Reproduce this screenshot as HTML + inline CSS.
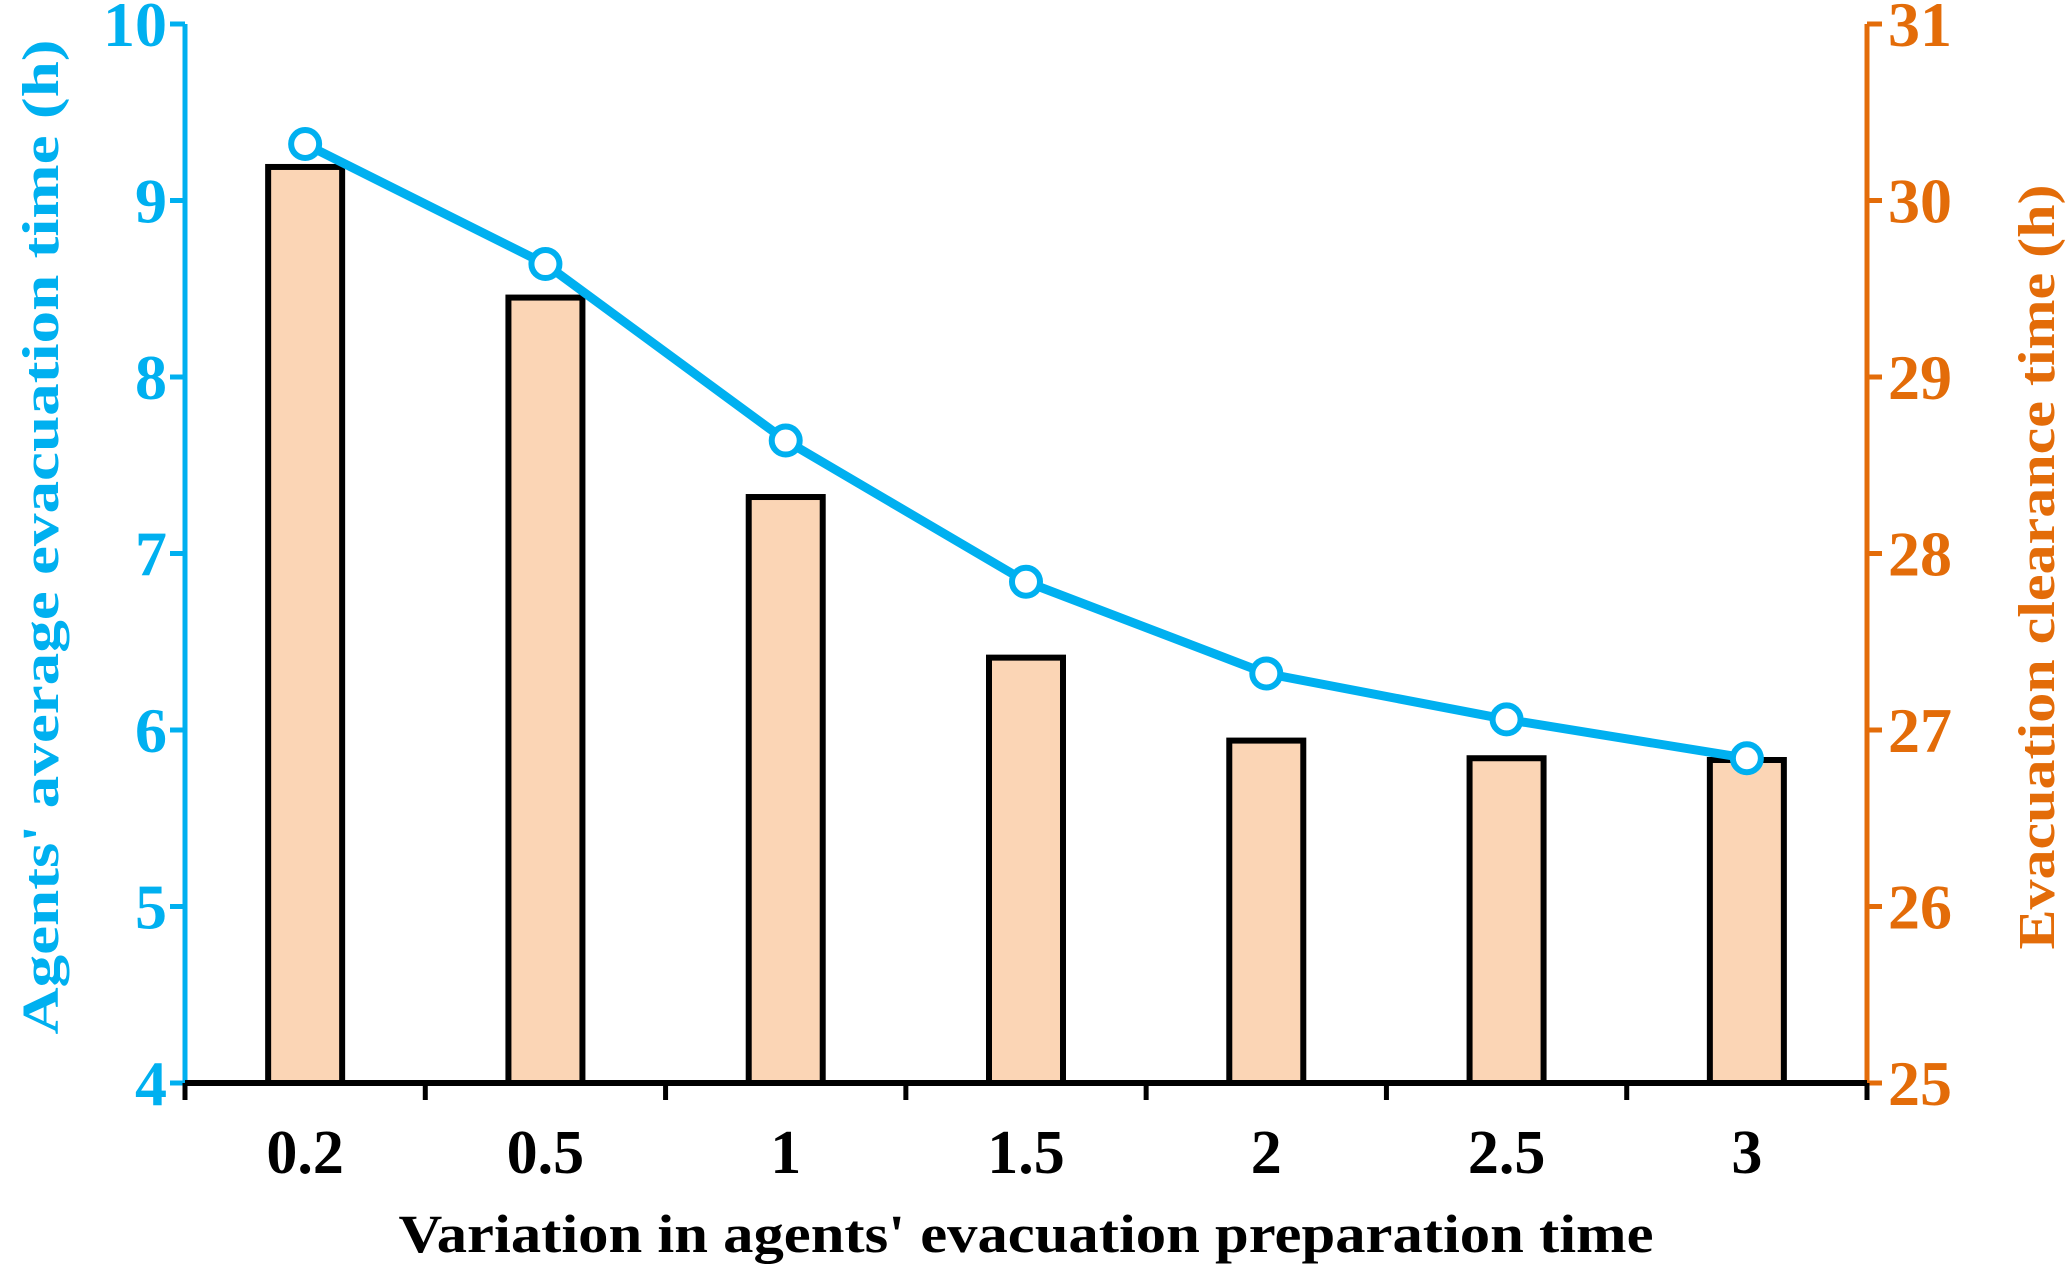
<!DOCTYPE html>
<html><head><meta charset="utf-8"><style>
html,body{margin:0;padding:0;background:#fff;}
svg{display:block;}
text{font-family:"Liberation Serif",serif;font-weight:bold;}
</style></head><body>
<svg id="chart" width="2067" height="1272" viewBox="0 0 2067 1272" xmlns="http://www.w3.org/2000/svg">
<g id="bars"></g>
<g id="axes"></g>
<g id="line"></g>
<text x="1026" y="1252" font-size="54" text-anchor="middle" fill="#000" textLength="1255" lengthAdjust="spacingAndGlyphs">Variation in agents' evacuation preparation time</text>
<text transform="translate(58,537) rotate(-90)" font-size="52" text-anchor="middle" fill="#00b0f0" textLength="995" lengthAdjust="spacingAndGlyphs">Agents' average evacuation time (h)</text>
<text transform="translate(2054,567) rotate(-90)" font-size="52" text-anchor="middle" fill="#e36c09" textLength="765" lengthAdjust="spacingAndGlyphs">Evacuation clearance time (h)</text>
</svg>
<script>
const categories = ["0.2","0.5","1","1.5","2","2.5","3"];
const avgTime = [9.32, 8.64, 7.64, 6.84, 6.32, 6.06, 5.84];
const clearance = [30.19, 29.45, 28.32, 27.41, 26.94, 26.84, 26.83];
const leftTicks = [4,5,6,7,8,9,10];
const rightTicks = [25,26,27,28,29,30,31];

const NS="http://www.w3.org/2000/svg";
const X0=185, X1=1867, YT=24, YB=1083;
const bw=(X1-X0)/categories.length;
const xc=i=>X0+bw*(i+0.5);
const yL=v=>YB-(v-4)/(10-4)*(YB-YT);
const yR=v=>YB-(v-25)/(31-25)*(YB-YT);
function mk(tag,attrs,parent){const e=document.createElementNS(NS,tag);for(const k in attrs)e.setAttribute(k,attrs[k]);parent.appendChild(e);return e;}
const gB=document.getElementById('bars'),gA=document.getElementById('axes'),gL=document.getElementById('line');

clearance.forEach((v,i)=>{
  const r=mk('rect',{x:xc(i)-37,y:yR(v),width:74,height:YB-yR(v),fill:'#fbd5b5',stroke:'#000','stroke-width':6},gB);
  
  
});
let l=mk('line',{x1:X0,y1:YT,x2:X0,y2:YB,stroke:'#00b0f0','stroke-width':5},gA);


leftTicks.forEach(t=>{
  mk('line',{x1:X0-15,y1:yL(t),x2:X0,y2:yL(t),stroke:'#00b0f0','stroke-width':5},gA);
  const tx=mk('text',{x:X0-18,y:yL(t)+22,'font-size':64,'text-anchor':'end',fill:'#00b0f0'},gA);
  tx.textContent=t;
  
  
});
let r=mk('line',{x1:X1,y1:YT,x2:X1,y2:YB,stroke:'#e36c09','stroke-width':5},gA);


rightTicks.forEach(t=>{
  mk('line',{x1:X1,y1:yR(t),x2:X1+15,y2:yR(t),stroke:'#e36c09','stroke-width':5},gA);
  const tx=mk('text',{x:X1+21,y:yR(t)+22,'font-size':64,'text-anchor':'start',fill:'#e36c09'},gA);
  tx.textContent=t;
  
  
});
let xa=mk('line',{x1:X0,y1:YB,x2:X1,y2:YB,stroke:'#000','stroke-width':6},gA);


for(let i=0;i<=categories.length;i++){
  mk('line',{x1:X0+bw*i,y1:YB,x2:X0+bw*i,y2:YB+17,stroke:'#000','stroke-width':5},gA);
}
categories.forEach((c,i)=>{
  const tx=mk('text',{x:xc(i),y:1173,'font-size':62,'text-anchor':'middle',fill:'#000'},gA);
  tx.textContent=c;
  
  
});
const pl=mk('polyline',{points:avgTime.map((v,i)=>xc(i)+','+yL(v)).join(' '),fill:'none',stroke:'#00b0f0','stroke-width':9,'stroke-linejoin':'round'},gL);


avgTime.forEach((v,i)=>{
  const c=mk('circle',{cx:xc(i),cy:yL(v),r:14,fill:'#fff',stroke:'#00b0f0','stroke-width':6},gL);
  
  
});
</script>
</body></html>
